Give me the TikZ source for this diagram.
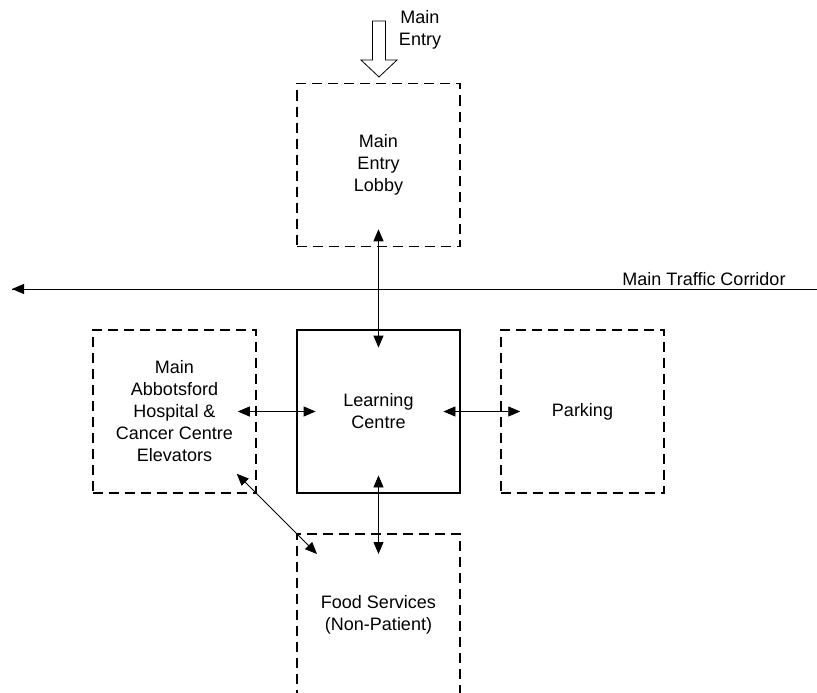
\documentclass[tikz,border=0pt]{standalone}
\usepackage{fontspec}
\setmainfont{Liberation Sans}
\usetikzlibrary{arrows.meta,calc}
\begin{document}
\begin{tikzpicture}[x=1pt,y=-1pt,
  txt/.style={font=\fontsize{18}{22}\selectfont, align=center, inner sep=0pt},
  area/.style={txt, draw, dash pattern=on 10pt off 6pt, line width=1.5pt,
    minimum width=163pt, minimum height=163pt},
  hub/.style={txt, draw, line width=2.8pt, minimum width=163pt, minimum height=163pt},
  link/.style={{Triangle[length=12pt,width=10pt]}-{Triangle[length=12pt,width=10pt]}, line width=0.8pt},
  oneway/.style={-{Triangle[length=12pt,width=10pt]}, line width=0.8pt},
  hollow/.style={draw, line width=0.8pt, fill=white}]
\useasboundingbox (0,0) rectangle (817,693);

% areas around the learning centre
\node[area] (lobby) at (378.5,165) {Main\\Entry\\Lobby};
\node[hub] (lc) at (378.5,411.5) {Learning\\Centre};
\node[area] (elev) at (174.5,411.5) {Main\\Abbotsford\\Hospital \&\\Cancer Centre\\Elevators};
\node[area] (park) at (582.5,411.5) {Parking};

% food services: open towards the bottom
\node[txt] (food) at (378.5,615) {Food Services\\(Non-Patient)};
\draw[dash pattern=on 10pt off 6pt, line width=1.5pt]
  (297,700) -- (297,534) -- (460,534) -- (460,700);
\coordinate (foodTop) at (378.5,534);
\coordinate (foodCorner) at (297,534);

% main entry (hollow arrow)
\draw[hollow] (372.5,21) -- (385.5,21) -- (385.5,60) -- (397,60) -- (379,77)
  -- (361,60) -- (372.5,60) -- cycle;
\node[txt] (entry) at (420,30) {Main\\Entry};

% main traffic corridor
\coordinate (corW) at (12,289);
\coordinate (corE) at (824,289);
\draw[oneway] (corE) -- (corW);
\draw[line width=0.8pt] (corW) -- (corE);
\node[txt, anchor=south] (corridor) at (704,286) {Main Traffic Corridor};

% connections
\draw[link] ($(lobby.south)+(0,-18)$) -- ($(lc.north)+(0,19)$);
\draw[link] ($(elev.east)+(-19,0)$) -- ($(lc.west)+(20,0)$);
\draw[link] ($(lc.east)+(-18,0)$) -- ($(park.west)+(20,0)$);
\draw[link] ($(lc.south)+(0,-19)$) -- ($(foodTop)+(0,20)$);
\draw[link] ($(elev.south east)+(-20,-20)$) -- ($(foodCorner)+(20,20)$);
\end{tikzpicture}
\end{document}
